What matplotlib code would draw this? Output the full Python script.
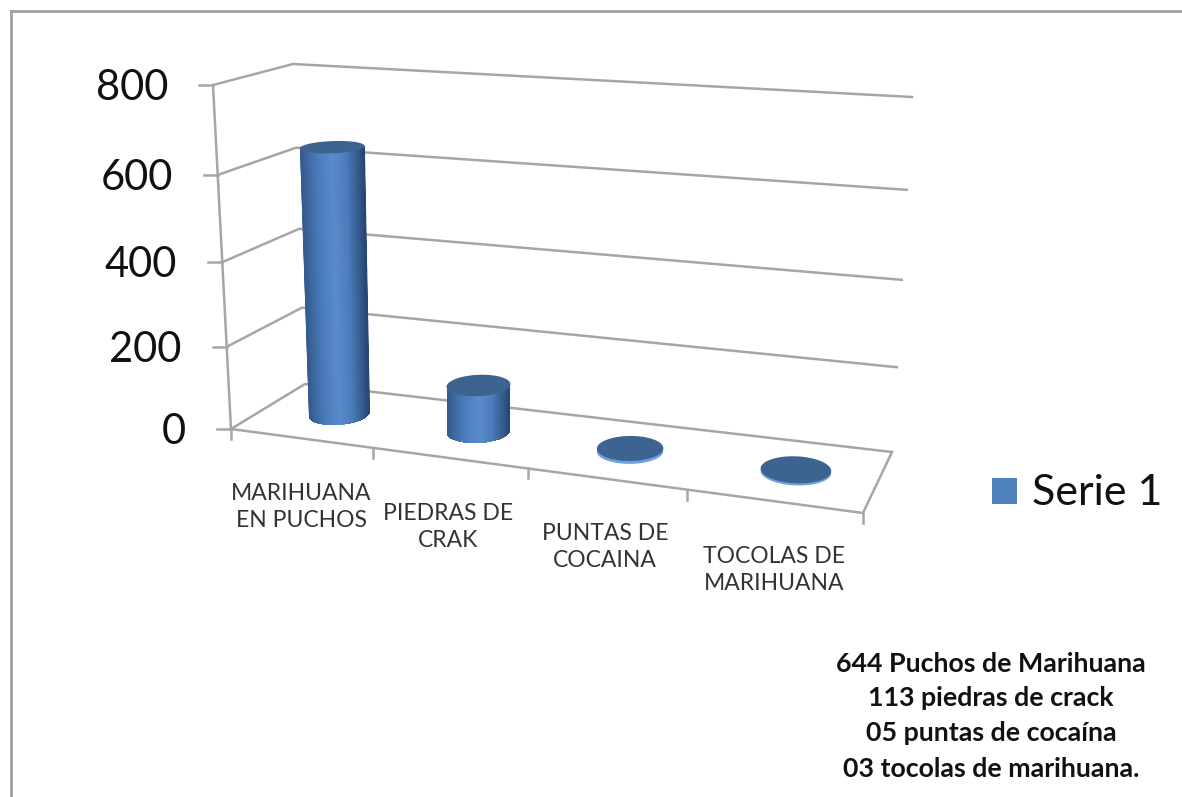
import numpy as np
import matplotlib
matplotlib.use("Agg")
import matplotlib.pyplot as plt
from matplotlib.colors import LinearSegmentedColormap
from matplotlib.patches import Polygon, Rectangle

# --- DATA
categories = ["MARIHUANA\nEN PUCHOS", "PIEDRAS DE\nCRAK", "PUNTAS DE\nCOCAINA", "TOCOLAS DE\nMARIHUANA"]
values = [644, 113, 5, 3]
y_ticks = [0, 200, 400, 600, 800]
series_name = "Serie 1"
note_lines = ["644 Puchos de Marihuana", "113 piedras de crack", "05 puntas de cocaína", "03 tocolas de marihuana."]

# --- LAYOUT (pixels of the 3d box: corners at value 0 and at value 800)
W, H = 1182, 797
YMAX = 800.0
PERSP = 1.062
FL = np.array([[231, 429], [213, 85]], float)
BL = np.array([[305, 384], [293, 64]], float)
BR = np.array([[892, 452], [912, 97]], float)
FR = np.array([[863, 513], [885, 125]], float)
TICK_S = [0, 1.036, 2.06, 3.03, 4]
LABEL_POS = [(301, 507), (448, 527), (605, 547), (774, 570)]
NOTE_Y = [664, 698, 733, 769]

GRID = "#a6a6a6"
FONT = "Lato"
cyl_cmap = LinearSegmentedColormap.from_list("cyl", [
    (0.0, "#33598c"), (0.25, "#4a7ab8"), (0.5, "#5a8ccd"),
    (0.72, "#4c7cba"), (0.9, "#345a8c"), (1.0, "#27456f")])


def frac(v):
    # value -> share of the wall height, the wall leans away from the viewer
    t = v / YMAX
    return t / (PERSP - (PERSP - 1) * t)


def homography(v):
    # unit square (s along the categories, d into the depth) -> screen at level v
    t = frac(v)
    pts = [p[0] + t * (p[1] - p[0]) for p in (FL, FR, BR, BL)]
    src = [(0, 0), (1, 0), (1, 1), (0, 1)]
    A, b = [], []
    for (s, d), (x, y) in zip(src, pts):
        A.append([s, d, 1, 0, 0, 0, -s * x, -d * x])
        A.append([0, 0, 0, s, d, 1, -s * y, -d * y])
        b += [x, y]
    return np.append(np.linalg.solve(np.array(A), np.array(b)), 1).reshape(3, 3)


def project(s, d, v):
    m = homography(v)
    s, d = np.asarray(s, float), np.asarray(d, float)
    w = m[2, 0] * s + m[2, 1] * d + m[2, 2]
    return (m[0, 0] * s + m[0, 1] * d + m[0, 2]) / w, (m[1, 0] * s + m[1, 1] * d + m[1, 2]) / w


def level(p, v):
    return p[0] + frac(v) * (p[1] - p[0])


def Plot_Cylinder(ax, i, value, zorder):
    t = np.linspace(0, 2 * np.pi, 181)
    s = (i + 0.535 + 0.198 * np.cos(t)) / len(categories)
    d = 0.5 + 0.22 * np.sin(t)
    xb, yb = project(s, d, 0)
    xt, yt = project(s, d, value)
    if value > 20:
        # side of the cylinder: lower half of the base rim, closed over the top rim
        lo = yb > np.interp(xb, [xb.min(), xb.max()], [yb[xb.argmin()], yb[xb.argmax()]])
        lower = np.c_[xb[lo], yb[lo]]
        lower = lower[lower[:, 0].argsort()]
        side = np.vstack([[xt.min(), yt[xt.argmin()]], [xb.min(), yb[xb.argmin()]],
                          lower, [xb.max(), yb[xb.argmax()]], [xt.max(), yt[xt.argmax()]]])
        poly = Polygon(side, closed=True, fc="none", ec="none", zorder=zorder)
        ax.add_patch(poly)
        # shading follows the lean of the column
        ybase, ytop = yb.mean(), yt.mean()
        rows = np.linspace(yb.max() + 2, yt.min() - 2, 12)
        f = (ybase - rows) / (ybase - ytop)
        left = xb.min() + f * (xt.min() - xb.min())
        right = xb.max() + f * (xt.max() - xb.max())
        g = np.linspace(0, 1, 64)
        X = left[:, None] + (right - left)[:, None] * g[None, :]
        Y = np.repeat(rows[:, None], 64, axis=1)
        C = np.repeat(g[None, :], 12, axis=0)
        m = ax.pcolormesh(X, Y, C, cmap=cyl_cmap, shading="gouraud", zorder=zorder)
        m.set_clip_path(poly)
    else:
        ax.fill(xb, yb + 0.8, color="#6f9fdc", lw=0, zorder=zorder)
    ax.fill(xt, yt, color="#3d6491", lw=0, zorder=zorder + 0.1)


# --- PLOTTING
fig = plt.figure(figsize=(W / 100, H / 100), dpi=100)
ax = fig.add_axes([0, 0, 1, 1])

# frame around the picture
ax.plot([11, 11], [H, 11], color="#a0a0a0", lw=2, zorder=1)
ax.plot([11, W], [11, 11], color="#a0a0a0", lw=2, zorder=1)

# walls
for v in y_ticks:
    fl, bl, br = level(FL, v), level(BL, v), level(BR, v)
    ax.plot([fl[0], bl[0], br[0]], [fl[1], bl[1], br[1]], color=GRID, lw=1.8, zorder=2, solid_joinstyle="miter")
    ax.plot([fl[0] - 14, fl[0]], [fl[1], fl[1]], color=GRID, lw=1.8, zorder=2)
    ax.text(fl[0] - 45, fl[1] + 3, str(v), ha="right", va="center", fontsize=30, family=FONT, color="#111111")
ax.plot(FL[:, 0], FL[:, 1], color=GRID, lw=1.8, zorder=2)

# floor
ax.plot([FL[0, 0], FR[0, 0], BR[0, 0]], [FL[0, 1], FR[0, 1], BR[0, 1]], color=GRID, lw=1.8, zorder=2, solid_joinstyle="miter")
tx, ty = project(np.array(TICK_S) / len(categories), np.zeros(len(TICK_S)), 0)
for x, y in zip(tx, ty):
    ax.plot([x, x], [y, y + 10], color=GRID, lw=1.8, zorder=2)

# columns
for i, value in enumerate(values):
    Plot_Cylinder(ax, i, value, 3 + i)

# category labels
for name, (x, y) in zip(categories, LABEL_POS):
    ax.text(x, y, name, ha="center", va="center", fontsize=16.5, family=FONT, color="#333333", linespacing=1.4)

# legend
ax.add_patch(Rectangle((992, 478), 25, 26, fc="#4f81bd", ec="none", zorder=3))
ax.text(1032, 493, series_name, ha="left", va="center", fontsize=31, family=FONT, color="#111111")

# note
for line, y in zip(note_lines, NOTE_Y):
    ax.text(991, y, line, ha="center", va="center", fontsize=19.3, family=FONT, weight="bold", color="#111111")

ax.set_xlim(0, W)
ax.set_ylim(H, 0)
ax.axis("off")
plt.savefig("out.png", dpi=100)
